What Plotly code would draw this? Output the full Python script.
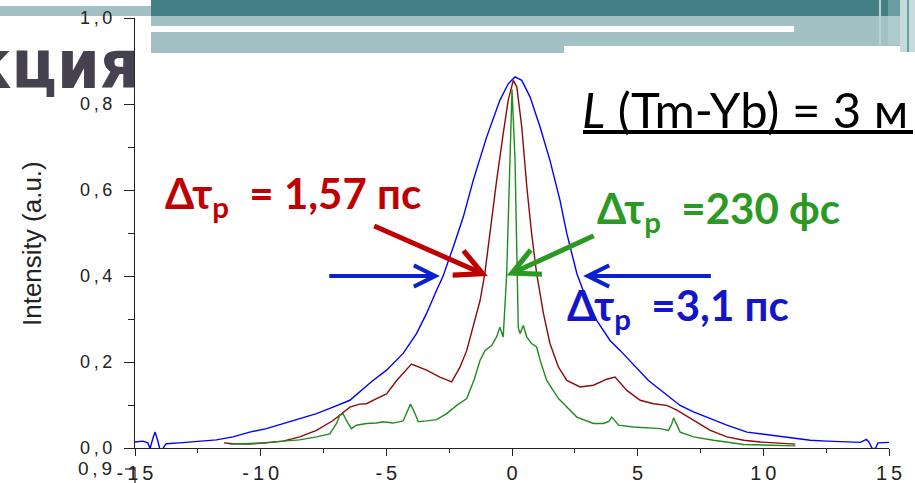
import plotly.graph_objects as go

# ---------------- data ----------------
blue_x = [-15.0, -14.69, -14.49, -14.4, -14.29, -14.2, -14.1, -14.0, -13.89, -13.76, -13.23, -12.43,
          -11.76, -11.1, -10.44, -9.77, -9.11, -8.45, -7.78, -7.12, -6.45, -5.79, -5.53, -4.99, -4.33,
          -3.8, -3.4, -3.0, -2.74, -2.34, -1.94, -1.54, -1.01, -0.48, -0.15, 0.12, 0.39, 0.72, 1.12,
          1.51, 1.91, 2.18, 2.58, 2.98, 3.37, 3.9, 4.3, 5.43, 6.03, 6.69, 7.22, 7.89, 8.55, 9.35, 9.88,
          10.55, 11.21, 11.87, 12.54, 13.2, 13.86, 14.1, 14.2, 14.33, 14.46, 14.56, 15.0]
blue_y = [0.014, 0.016, 0.012, -0.001, 0.022, 0.037, 0.018, -0.005, -0.001, 0.010, 0.012, 0.016,
          0.019, 0.026, 0.037, 0.045, 0.057, 0.068, 0.080, 0.095, 0.111, 0.144, 0.157, 0.181, 0.220,
          0.266, 0.313, 0.367, 0.400, 0.467, 0.537, 0.623, 0.723, 0.809, 0.847, 0.863, 0.855, 0.816, 0.746,
          0.669, 0.576, 0.499, 0.406, 0.343, 0.297, 0.250, 0.227, 0.157, 0.130, 0.099, 0.084, 0.068, 0.053, 0.037, 0.033,
          0.027, 0.022, 0.018, 0.016, 0.014, 0.013, 0.020, 0.014, -0.001, -0.001, 0.012, 0.013]

red_x = [-11.46, -11.1, -10.44, -9.77, -9.11, -8.45, -7.78, -7.12, -6.85, -6.45, -6.06, -5.79, -5.39,
         -4.99, -4.59, -4.0, -3.4, -2.87, -2.4, -2.07, -1.8, -1.54, -1.27, -1.08, -0.88, -0.61, -0.35,
         -0.15, 0.05, 0.19, 0.39, 0.59, 0.78, 0.98, 1.25, 1.51, 1.85, 2.18, 2.71, 3.24, 3.77, 4.1, 4.57,
         5.1, 5.63, 6.16, 6.56, 7.22, 7.89, 8.55, 9.22, 9.88, 10.55, 11.27]
red_y = [0.012, 0.010, 0.009, 0.012, 0.016, 0.026, 0.041, 0.064, 0.076, 0.095, 0.102, 0.103, 0.115,
         0.126, 0.157, 0.195, 0.181, 0.165, 0.154, 0.188, 0.227, 0.281, 0.343, 0.406, 0.499, 0.623, 0.731,
         0.809, 0.855, 0.840, 0.746, 0.607, 0.499, 0.406, 0.313, 0.243, 0.188, 0.157, 0.142, 0.146, 0.160, 0.165, 0.134,
         0.111, 0.103, 0.099, 0.088, 0.064, 0.041, 0.026, 0.018, 0.014, 0.012, 0.009]

green_x = [-11.24, -10.44, -9.77, -9.11, -8.45, -7.78, -7.25, -6.98, -6.85, -6.72, -6.59, -6.39, -6.19,
           -5.79, -5.39, -5.13, -4.73, -4.33, -4.13, -4.04, -3.86, -3.73, -3.4, -3.0, -2.6, -2.2, -1.8,
           -1.5, -1.27, -1.07, -0.8, -0.61, -0.48, -0.35, -0.21, -0.08, 0.0, 0.12, 0.19, 0.25, 0.32, 0.45,
           0.59, 0.78, 0.98, 1.12, 1.38, 1.85, 2.58, 3.24, 3.64, 3.85, 3.97, 4.1, 4.24, 4.83, 5.9, 6.23,
           6.35, 6.43, 6.55, 6.69, 7.22, 8.02, 9.22, 11.28]
green_y = [0.009, 0.010, 0.012, 0.016, 0.019, 0.026, 0.033, 0.057, 0.076, 0.080, 0.064, 0.045, 0.053,
           0.057, 0.058, 0.061, 0.058, 0.063, 0.088, 0.102, 0.080, 0.061, 0.063, 0.066, 0.080, 0.099, 0.115,
           0.160, 0.204, 0.227, 0.239, 0.259, 0.281, 0.258, 0.406, 0.670, 0.834, 0.670, 0.406, 0.280, 0.266, 0.285,
           0.258, 0.243, 0.235, 0.204, 0.157, 0.115, 0.072, 0.057, 0.057, 0.062, 0.072, 0.062, 0.053, 0.049, 0.045, 0.041,
           0.055, 0.070, 0.055, 0.037, 0.026, 0.018, 0.008, 0.005]

x_tickvals = [-15, -10, -5, 0, 5, 10, 15]
x_ticktext = ["-\u20091\u20095", "-\u20091\u20090", "-\u20095", "0", "5", "1\u20090", "1\u20095"]
y_tickvals = [0.0, 0.2, 0.4, 0.6, 0.8, 1.0]
y_ticktext = ["0\u2009,\u20090", "0\u2009,\u20092", "0\u2009,\u20094", "0\u2009,\u20096", "0\u2009,\u20098", "1\u2009,\u20090"]

# ---------------- geometry helpers (pixel -> paper) ----------------
W, H = 915, 483
L, R, T, B = 135, 26, 18, 35
PW, PH = W - L - R, H - T - B

def px(x):
    return (x - L) / PW

def py(y):
    return (H - B - y) / PH

fig = go.Figure()
fig.add_trace(go.Scatter(x=blue_x, y=blue_y, mode="lines", line=dict(color="#0000ff", width=1.4),
                         showlegend=False, hoverinfo="skip"))
fig.add_trace(go.Scatter(x=red_x, y=red_y, mode="lines", line=dict(color="#8b0a0a", width=1.4),
                         showlegend=False, hoverinfo="skip"))
fig.add_trace(go.Scatter(x=green_x, y=green_y, mode="lines", line=dict(color="#1f8c1f", width=1.4),
                         showlegend=False, hoverinfo="skip"))

shapes = []

def box(x0, y0, x1, y1, color):
    shapes.append(dict(type="rect", xref="paper", yref="paper", x0=px(x0), x1=px(x1),
                       y0=py(y0), y1=py(y1), fillcolor=color, line=dict(width=0), layer="below"))

DARK = "#447f86"
LIGHT = "#a3c1c4"
box(0, 6, 151, 16, LIGHT)
box(151, 0, 915, 16, DARK)
box(151, 16, 915, 26, LIGHT)
box(794, 26, 915, 32, LIGHT)
box(151, 32, 915, 46, LIGHT)
box(151, 46, 564, 53, LIGHT)
box(879, 0, 881, 45, "#b9d3d5")
box(888, 0, 900, 16, "#6a9ea3")
box(888, 16, 900, 45, "#aecacc")
box(900, 0, 907, 52, "#c6dbdc")
box(907, 0, 909, 52, "#6a9ea3")
box(909, 0, 915, 52, "#c6dbdc")

# underline of the L label
shapes.append(dict(type="line", xref="paper", yref="paper", x0=px(583), x1=px(913),
                   y0=py(132), y1=py(132), line=dict(color="black", width=4)))
# fragment of the chart below
shapes.append(dict(type="line", xref="paper", yref="paper", x0=px(135), x1=px(135),
                   y0=py(467), y1=py(483), line=dict(color="#222", width=1.2)))
shapes.append(dict(type="line", xref="paper", yref="paper", x0=px(125), x1=px(135),
                   y0=py(469), y1=py(469), line=dict(color="#222", width=1.2)))

ann = []
# slide title fragment
ann.append(dict(text="<b>кция</b>", xref="paper", yref="paper", x=px(141), y=py(64),
                xanchor="right", yanchor="middle", showarrow=False,
                font=dict(family="Liberation Sans Narrow, DejaVu Sans Condensed, Liberation Sans",
                          size=68, color="#45414f")))
# y-axis title
ann.append(dict(text="Intensity (a.u.)", xref="paper", yref="paper", x=px(32), y=py(244),
                xanchor="center", yanchor="middle", showarrow=False, textangle=-90,
                font=dict(family="Liberation Sans, Arial", size=26, color="#222")))
# fragment tick label of chart below
ann.append(dict(text="0\u2009,\u20099", xref="paper", yref="paper", x=px(114), y=py(469),
                xanchor="right", yanchor="middle", showarrow=False,
                font=dict(family="Liberation Sans, Arial", size=19, color="#222")))

F = "Lato, Open Sans, Noto Sans"
ann.append(dict(text="<b>Δτ<sub>p</sub>\u00a0\u00a0= 1,57 пс</b>", xref="paper", yref="paper",
                x=px(163), y=py(196), xanchor="left", yanchor="middle", showarrow=False,
                font=dict(family=F, size=42, color="#c00000")))
ann.append(dict(text="<b>Δτ<sub>p</sub>\u00a0\u00a0=230 фс</b>", xref="paper", yref="paper",
                x=px(595), y=py(211), xanchor="left", yanchor="middle", showarrow=False,
                font=dict(family=F, size=42, color="#2a9a22")))
ann.append(dict(text="<b>Δτ<sub>p</sub>\u00a0\u00a0=3,1 пс</b>", xref="paper", yref="paper",
                x=px(565), y=py(308), xanchor="left", yanchor="middle", showarrow=False,
                font=dict(family=F, size=42, color="#1414cc")))
ann.append(dict(text="<i>L</i> (Tm-Yb) = 3 м", xref="paper", yref="paper",
                x=px(580), y=py(109), xanchor="left", yanchor="middle", showarrow=False,
                font=dict(family=F, size=49, color="black")))

# arrows (tip, tail in data coords)
def arrow(x, y, axx, ayy, color, width):
    ann.append(dict(x=x, y=y, ax=axx, ay=ayy, xref="x", yref="y", axref="x", ayref="y",
                    text="", showarrow=True, arrowhead=5, arrowsize=1.05, arrowwidth=width,
                    arrowcolor=color))

arrow(-2.87, 0.4, -7.33, 0.4, "#0a1fd0", 4)
arrow(2.83, 0.4, 7.97, 0.4, "#0a1fd0", 4)
arrow(-0.96, 0.4, -5.54, 0.518, "#c00000", 5)
arrow(-0.21, 0.401, 3.31, 0.495, "#2a9a22", 5)

x_font = dict(family="Liberation Sans, Arial", size=20, color="#222")
y_font = dict(family="Liberation Sans, Arial", size=18, color="#222")
fig.update_layout(
    width=W, height=H,
    margin=dict(l=L, r=R, t=T, b=B, autoexpand=False),
    paper_bgcolor="white", plot_bgcolor="rgba(0,0,0,0)",
    shapes=shapes, annotations=ann,
    xaxis=dict(range=[-15, 15], tickvals=x_tickvals, ticktext=x_ticktext, ticks="outside",
               ticklen=7, tickwidth=1.2, tickcolor="#222", showline=True, linecolor="#222",
               linewidth=1.2, showgrid=False, zeroline=False, tickfont=x_font,
               ticklabelstandoff=0, automargin=False,
               minor=dict(dtick=2.5, tick0=0, ticks="outside", ticklen=4, tickcolor="#222", showgrid=False)),
    yaxis=dict(range=[0, 1.0], tickvals=y_tickvals, ticktext=y_ticktext, ticks="outside",
               ticklen=10, tickwidth=1.2, tickcolor="#222", showline=True, linecolor="#222",
               linewidth=1.2, showgrid=False, zeroline=False, tickfont=y_font,
               ticklabelstandoff=8, automargin=False,
               minor=dict(dtick=0.1, tick0=0, ticks="outside", ticklen=6, tickcolor="#222", showgrid=False)),
)

fig.write_html("out.html", config={"displayModeBar": False},
               post_script="document.body.style.margin='0px';")
